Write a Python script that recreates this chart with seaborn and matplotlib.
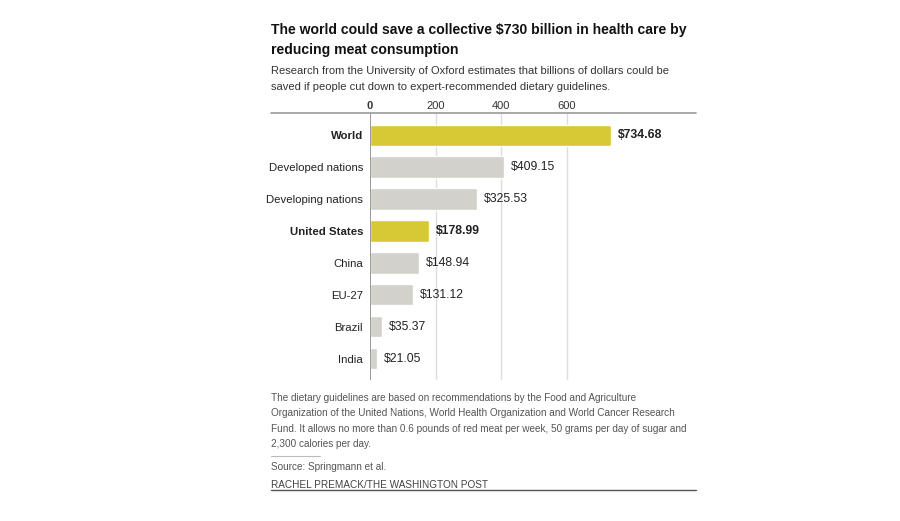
import numpy as np
import pandas as pd
import matplotlib
matplotlib.use('Agg')
import matplotlib.pyplot as plt
import seaborn as sns

regions = ['World', 'Developed nations', 'Developing nations', 'United States',
           'China', 'EU-27', 'Brazil', 'India']
savings = [734.68, 409.15, 325.53, 178.99, 148.94, 131.12, 35.37, 21.05]
highlight = ['World', 'United States']
x_ticks = [0, 200, 400, 600]

YELLOW = '#D7C935'
GRAY = '#D2D1CC'

sns.set_theme(style='white')
plt.rcParams['font.family'] = ['Liberation Sans', 'DejaVu Sans']

df = pd.DataFrame({'region': regions, 'savings': savings})
palette = {r: (YELLOW if r in highlight else GRAY) for r in regions}

fig = plt.figure(figsize=(9, 5.21), dpi=100)
ax = fig.add_axes([370 / 900, 1 - 380 / 521, 326 / 900, 267 / 521])

sns.barplot(data=df, x='savings', y='region', hue='region', palette=palette,
            legend=False, width=0.66, saturation=1, ax=ax)

ax.set_xlim(0, 995)
ax.set_ylim(7.66, -0.69)
ax.set_xlabel('')
ax.set_ylabel('')

# grid and axis
for t in x_ticks[1:]:
  ax.axvline(t, color='#DDDDDD', linewidth=1, zorder=0)
ax.axvline(0, color='#888888', linewidth=1.2, zorder=3)
for s in ax.spines.values():
  s.set_visible(False)

ax.xaxis.tick_top()
ax.set_xticks(x_ticks)
ax.set_xticklabels([str(t) for t in x_ticks])
ax.tick_params(axis='x', length=0, pad=1.5, labelsize=8, labelcolor='#333333')
ax.get_xticklabels()[0].set_fontweight('bold')
ax.tick_params(axis='y', length=0, pad=5, labelsize=8.2, labelcolor='#222222')
for lbl in ax.get_yticklabels():
  if lbl.get_text() in highlight:
    lbl.set_fontweight('bold')

for container in ax.containers:
  texts = ax.bar_label(container, labels=[f'${v:.2f}' for v in container.datavalues],
                       padding=5, fontsize=8.8, color='#222222')
  for txt, bar in zip(texts, container):
    yc = bar.get_y() + bar.get_height() / 2
    idx = int(round(yc))
    if regions[idx] in highlight:
      txt.set_fontweight('bold')

# top and bottom rules
fig.add_artist(plt.Line2D([271 / 900, 696 / 900], [1 - 113 / 521] * 2,
                          color='#999999', linewidth=1.2))
fig.add_artist(plt.Line2D([271 / 900, 696 / 900], [1 - 490 / 521] * 2,
                          color='#555555', linewidth=1))
fig.add_artist(plt.Line2D([271 / 900, 320 / 900], [1 - 456 / 521] * 2,
                          color='#BBBBBB', linewidth=0.8))

x0 = 271 / 900
fig.text(x0, 1 - 40 / 521, 'The world could save a collective $730 billion in health care by\nreducing meat consumption',
         fontsize=10.1, fontweight='bold', color='#111111', va='center', linespacing=1.5)
fig.text(x0, 1 - 79 / 521, 'Research from the University of Oxford estimates that billions of dollars could be\n'
         'saved if people cut down to expert-recommended dietary guidelines.',
         fontsize=8.0, color='#333333', va='center', linespacing=1.65)
fig.text(x0, 1 - 421 / 521, 'The dietary guidelines are based on recommendations by the Food and Agriculture\n'
         'Organization of the United Nations, World Health Organization and World Cancer Research\n'
         'Fund. It allows no more than 0.6 pounds of red meat per week, 50 grams per day of sugar and\n'
         '2,300 calories per day.',
         fontsize=7.2, color='#555555', va='center', linespacing=1.7)
fig.text(x0, 1 - 467 / 521, 'Source: Springmann et al.', fontsize=7.2, color='#555555', va='center')
fig.text(x0, 1 - 485 / 521, 'RACHEL PREMACK/THE WASHINGTON POST', fontsize=7.2, color='#444444', va='center')

fig.savefig('out.png', dpi=100, facecolor='white')
